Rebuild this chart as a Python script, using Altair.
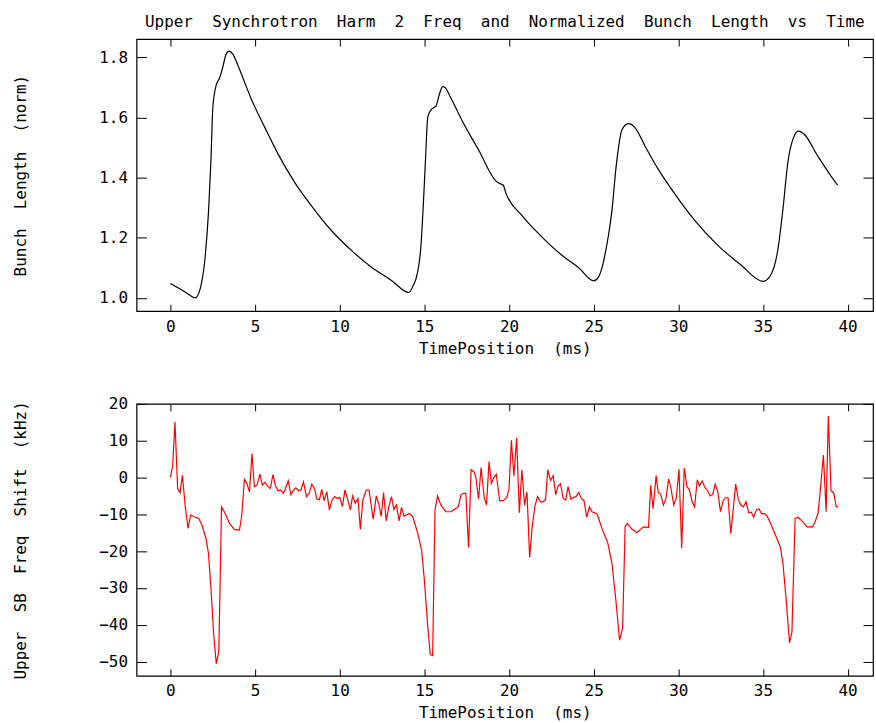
import altair as alt
import pandas as pd

# ---- data ----
t_bl = [0.0, 0.5, 1.0, 1.47, 1.76, 2.06, 2.25, 2.39, 2.51, 2.71, 2.9, 3.1, 3.29, 3.47, 3.69,
        4.02, 4.8, 5.59, 6.37, 7.35, 8.33, 9.51, 10.69, 11.86, 13.04, 14.08,
        14.35, 14.51, 14.8, 14.93, 15.06, 15.2, 15.29, 15.45, 15.69, 15.88, 16.08, 16.25,
        16.47, 17.25, 18.24, 19.22, 19.45, 19.65, 19.84, 20.78, 21.76, 23.14, 24.12, 25.0,
        25.29, 25.49, 25.69, 25.88, 26.08, 26.31, 26.47, 26.67, 27.06, 27.45, 28.04, 28.82,
        29.8, 30.98, 32.35, 33.73, 35.0, 35.39, 35.88, 36.18, 36.47, 36.76, 37.1, 37.45,
        38.24, 39.02, 39.41]
bunch_len = [1.048, 1.032, 1.015, 1.0, 1.03, 1.14, 1.285, 1.45, 1.636, 1.708, 1.73, 1.768, 1.81,
             1.82, 1.81, 1.768, 1.658, 1.565, 1.477, 1.383, 1.306, 1.224, 1.158, 1.103, 1.059,
             1.018, 1.042, 1.064, 1.174, 1.30, 1.45, 1.60, 1.615, 1.628, 1.638, 1.675, 1.702,
             1.698, 1.675, 1.587, 1.488, 1.389, 1.38, 1.375, 1.345, 1.273, 1.213, 1.141, 1.10,
             1.057, 1.07, 1.10, 1.15, 1.21, 1.29, 1.427, 1.50, 1.559, 1.579, 1.565, 1.504,
             1.427, 1.345, 1.257, 1.174, 1.108, 1.055, 1.07, 1.16, 1.295, 1.45, 1.526, 1.554,
             1.543, 1.471, 1.405, 1.375]

t_fs = [0.0, 0.137, 0.27, 0.43, 0.57, 0.71, 0.88, 1.04, 1.2, 1.47, 1.67, 1.86, 2.1, 2.25, 2.39,
        2.55, 2.71, 2.86, 3.02, 3.24, 3.49, 3.78, 4.08, 4.22, 4.37, 4.51, 4.67, 4.82, 4.96,
        5.12, 5.29, 5.43, 5.59, 5.76, 5.9, 6.06, 6.2, 6.35, 6.51, 6.67, 6.8, 6.96, 7.12, 7.27,
        7.41, 7.57, 7.71, 7.86, 8.04, 8.2, 8.35, 8.51, 8.65, 8.8, 8.94, 9.08, 9.24, 9.39, 9.55,
        9.71, 9.86, 10.0, 10.16, 10.31, 10.47, 10.63, 10.76, 10.92, 11.08, 11.22, 11.37, 11.57,
        11.73, 11.98, 12.16, 12.31, 12.45, 12.59, 12.75, 12.9, 13.06, 13.2, 13.35, 13.51,
        13.65, 13.8, 14.12, 14.31, 14.6, 14.84, 15.0, 15.2, 15.35, 15.49, 15.63, 15.78, 15.98,
        16.27, 16.57, 16.76, 17.0, 17.16, 17.29, 17.45, 17.61, 17.76, 17.94, 18.04, 18.2,
        18.35, 18.53, 18.67, 18.82, 18.96, 19.12, 19.25, 19.45, 19.65, 19.86, 20.0, 20.14,
        20.29, 20.45, 20.61, 20.76, 20.92, 21.06, 21.22, 21.37, 21.53, 21.69, 21.86, 22.0,
        22.16, 22.29, 22.45, 22.61, 22.76, 22.9, 23.04, 23.2, 23.35, 23.49, 23.65, 23.8,
        23.96, 24.12, 24.27, 24.43, 24.59, 24.75, 24.9, 25.2, 25.49, 25.84, 26.08, 26.31,
        26.53, 26.71, 26.86, 27.0, 27.25, 27.55, 27.94, 28.24, 28.37, 28.51, 28.69, 28.82,
        28.96, 29.12, 29.27, 29.43, 29.57, 29.73, 29.88, 30.04, 30.2, 30.35, 30.51, 30.65,
        30.82, 30.96, 31.12, 31.25, 31.41, 31.57, 31.73, 31.88, 32.04, 32.18, 32.33, 32.49,
        32.65, 32.78, 32.94, 33.1, 33.24, 33.39, 33.55, 33.69, 33.84, 34.0, 34.16, 34.31,
        34.45, 34.61, 34.76, 34.92, 35.1, 35.25, 35.49, 35.78, 36.02, 36.18, 36.37, 36.57,
        36.71, 36.9, 37.06, 37.35, 37.61, 37.94, 38.08, 38.25, 38.39, 38.57, 38.73, 38.86,
        39.02, 39.18, 39.33, 39.45]
freq_shift = [0, 3.3, 15.1, -3.0, -4.2, 0.6, -8.0, -13.8, -10.2, -10.8, -11.1, -12.9, -16.5, -20.6,
              -29.6, -42.3, -50.6, -47.2, -8.0, -9.8, -12.5, -14.1, -14.3, -10.2, -0.5, -1.5,
              -3.9, 6.5, -2.5, -2.1, 0.9, -2.1, -1.3, -2.5, -3.0, 0.8, -2.1, -3.6, -3.4, -4.3,
              -3.0, -0.9, -4.7, -3.4, -2.8, -3.6, -3.4, -1.2, -5.2, -4.3, -1.8, -3.0, -5.8, -6.1,
              -3.2, -6.3, -3.9, -8.8, -6.1, -5.2, -5.7, -5.4, -7.9, -3.4, -5.9, -8.8, -5.0, -7.0,
              -5.7, -14.1, -6.1, -3.4, -3.4, -11.3, -5.0, -7.2, -10.6, -4.1, -11.8, -8.0, -5.2,
              -8.7, -7.5, -11.8, -8.1, -10.5, -9.8, -10.6, -15.0, -19.7, -27.8, -40.4, -48.1,
              -48.4, -8.8, -5.0, -7.5, -9.3, -9.3, -8.7, -8.0, -4.8, -4.3, -4.3, -19.0, 2.1, 1.5,
              0.1, -5.9, 2.7, -5.2, -7.5, 4.3, -1.6, 0.1, 0.9, -6.3, -6.3, -5.5, -3.2, 10.1, 0.4,
              10.8, -9.6, 2.1, -7.5, -3.9, -21.7, -13.4, -7.8, -5.2, -6.6, -6.6, -6.0, 2.1, -0.8,
              0.5, -4.7, -2.3, -1.7, -5.7, -6.1, -2.5, -5.9, -5.4, -5.2, -4.1, -5.7, -6.3, -10.8,
              -8.0, -9.3, -9.9, -13.8, -17.9, -23.3, -33.2, -44.2, -40.9, -13.2, -12.5, -14.0,
              -15.0, -13.4, -13.6, -2.1, -8.5, 0.5, -4.2, -4.5, -7.5, -5.7, -0.4, -3.0, -7.5,
              -5.6, 2.2, -19.2, 2.6, -2.5, -3.3, -6.6, -8.0, -0.6, -2.3, -0.9, -2.7, -3.6, -5.0,
              -4.5, -1.8, -3.8, -9.3, -6.3, -5.5, -5.5, -15.3, -8.8, -1.8, -6.1, -7.5, -8.0,
              -6.6, -9.6, -9.4, -10.8, -8.8, -8.5, -9.8, -9.8, -10.5, -12.9, -16.1, -18.8,
              -23.3, -33.2, -44.9, -42.0, -11.1, -10.8, -12.0, -13.4, -13.4, -12.0, -9.8, -3.4,
              6.1, -9.3, 16.7, -3.6, -4.2, -8.0, -8.0]

x_ticks = [0, 5, 10, 15, 20, 25, 30, 35, 40]
bl_ticks = [1.0, 1.2, 1.4, 1.6, 1.8]
fs_ticks = [-50, -40, -30, -20, -10, 0, 10, 20]

NB = "\u00a0"
title_text = f" {NB}".join("Upper Synchrotron Harm 2 Freq and Normalized Bunch Length vs Time".split(" "))
x_title = f"TimePosition {NB}(ms)"
y1_title = f"Bunch {NB}Length {NB}(norm)"
y2_title = f"Upper {NB}SB {NB}Freq {NB}Shift {NB}(kHz)"

FONT = "DejaVu Sans Mono"
FS = 16
W = 739
H = 273
XT = 7    # x tick length
YT = 10   # y tick length

df_bl = pd.DataFrame({"t": t_bl, "v": bunch_len})
df_fs = pd.DataFrame({"t": t_fs, "v": freq_shift})

x_scale = alt.Scale(domain=[-2, 41.5], nice=False, zero=False)


def x_axis_main():
    return alt.Axis(values=x_ticks, orient="bottom", offset=-XT, tickSize=XT, domain=False,
                    grid=False, labelPadding=7, labelFont=FONT, labelFontSize=FS,
                    labelColor="black", tickColor="black", tickWidth=1, labelFlush=False,
                    title=x_title, titleFont=FONT, titleFontSize=FS, titleFontWeight="normal",
                    titleColor="black", titlePadding=6)


def x_axis_mirror():
    return alt.Axis(values=x_ticks, orient="top", offset=-XT, tickSize=XT, domain=False,
                    grid=False, labels=False, title=None, tickColor="black", tickWidth=1)


def y_axis_main(vals, fmt, title):
    return alt.Axis(values=vals, format=fmt, orient="left", offset=-YT, tickSize=YT,
                    domain=False, grid=False, labelPadding=9, labelFont=FONT, labelFontSize=FS,
                    labelColor="black", tickColor="black", tickWidth=1, labelFlush=False,
                    title=title, titleFont=FONT, titleFontSize=FS, titleFontWeight="normal",
                    titleColor="black", titleAngle=270, titleAlign="center",
                    titleBaseline="middle", titleX=-126, titleY=H / 2)


def y_axis_mirror(vals):
    return alt.Axis(values=vals, orient="right", offset=-YT, tickSize=YT, domain=False,
                    grid=False, labels=False, title=None, tickColor="black", tickWidth=1)


def panel(df, color, y_dom, y_vals, y_fmt, y_title, interp):
    y_scale = alt.Scale(domain=y_dom, nice=False, zero=False)
    main = alt.Chart(df).mark_line(color=color, strokeWidth=1.2, interpolate=interp).encode(
        x=alt.X("t:Q", scale=x_scale, axis=x_axis_main()),
        y=alt.Y("v:Q", scale=y_scale, axis=y_axis_main(y_vals, y_fmt, y_title)),
    )
    mirror = alt.Chart(df).mark_line(opacity=0).encode(
        x=alt.X("t:Q", scale=x_scale, axis=x_axis_mirror()),
        y=alt.Y("v:Q", scale=y_scale, axis=y_axis_mirror(y_vals)),
    )
    return alt.layer(main, mirror).resolve_axis(x="independent", y="independent").properties(
        width=W, height=H)


top = panel(df_bl, "black", [0.956, 1.86], bl_ticks, ".1f", y1_title, "monotone").properties(
    title=alt.TitleParams(title_text, font=FONT, fontSize=FS, fontWeight="normal",
                          anchor="middle", frame="group", offset=9, color="black"))
bottom = panel(df_fs, "red", [-53.9, 20], fs_ticks, "d", y2_title, "linear")

chart = alt.vconcat(top, bottom, spacing=38).properties(
    padding={"left": 12, "top": 11, "right": 1, "bottom": 0},
    background="white",
).configure_view(stroke="black", strokeWidth=1.2)

chart.save("out.html", embed_options={"renderer": "svg", "actions": False})
